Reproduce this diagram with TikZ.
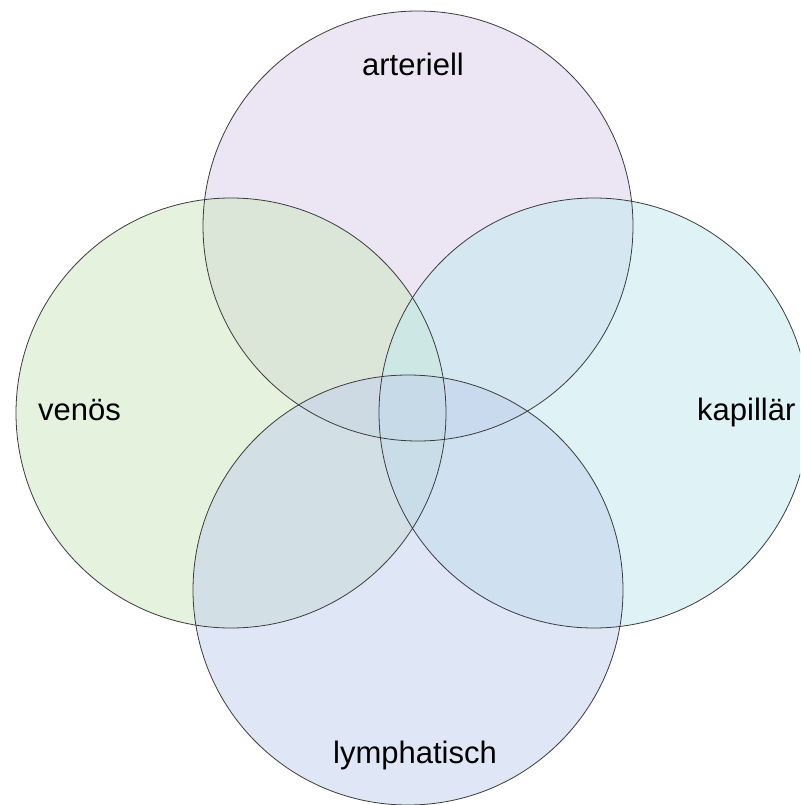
\documentclass[tikz,border=0pt]{standalone}
\usepackage{fontspec}
\setmainfont{Liberation Sans}
\definecolor{artc}{RGB}{217,205,235}
\definecolor{venc}{RGB}{205,231,191}
\definecolor{kapc}{RGB}{193,233,239}
\definecolor{lymc}{RGB}{193,207,237}
\definecolor{edge}{RGB}{60,60,60}
\begin{document}
\begin{tikzpicture}[x=1pt,y=-1pt,
  set/.style={circle,minimum size=430pt,inner sep=0pt,fill opacity=0.5},
  rim/.style={draw=edge,line width=0.8pt},
  lbl/.style={font=\fontsize{31}{37}\selectfont,inner sep=0pt}]
\useasboundingbox (0,0) rectangle (800,805);
\clip (0,0) rectangle (800,805);
\fill[white] (0,0) rectangle (800,805);
\node[set,fill=artc] (art) at (418,226) {};
\node[set,fill=venc] (ven) at (231,413) {};
\node[set,fill=kapc] (kap) at (594,413) {};
\node[set,fill=lymc] (lym) at (408,590) {};
\foreach \n in {art,ven,kap,lym}{\draw[rim] (\n.center) circle (215);}
\node[lbl,anchor=base] (tart) at (413,76) {arteriell};
\node[lbl,anchor=base west] (tven) at (38,420) {venös};
\node[lbl,anchor=base west] (tkap) at (697,420) {kapillär};
\node[lbl,anchor=base] (tlym) at (415,763) {lymphatisch};
\end{tikzpicture}
\end{document}
